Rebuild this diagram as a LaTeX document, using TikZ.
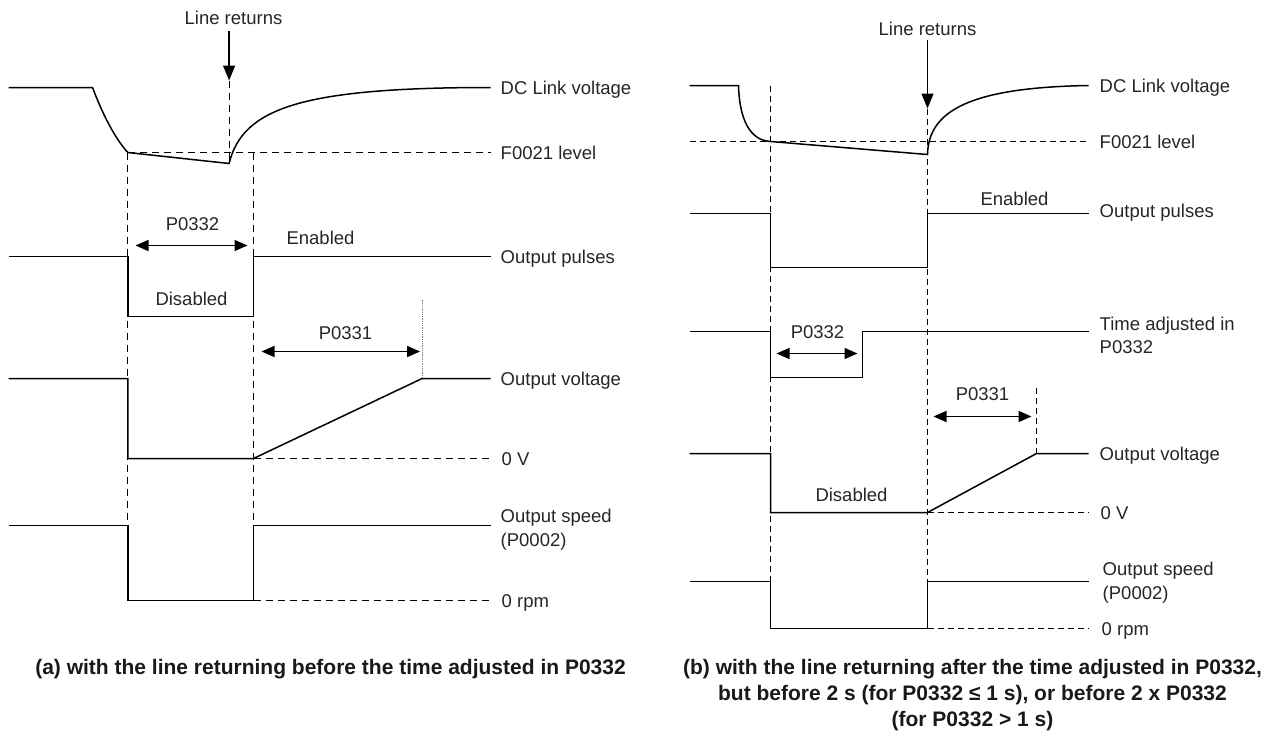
\documentclass[tikz,border=0pt]{standalone}
\usepackage{fontspec}
\setmainfont{Liberation Sans}
\usetikzlibrary{arrows.meta}
\begin{document}
\begin{tikzpicture}[x=1pt,y=-1pt,
  wave/.style={line width=1.5pt, line join=miter},
  guideA/.style={line width=1.2pt, dash pattern=on 7pt off 5pt},
  guideB/.style={line width=1.4pt, dash pattern=on 6pt off 4pt},
  dimarrow/.style={line width=1.6pt, {Triangle[length=13pt,width=11pt]}-{Triangle[length=13pt,width=11pt]}},
  downarrow/.style={line width=1.4pt, -{Triangle[length=15pt,width=12pt]}},
  lbl/.style={anchor=base west, inner sep=0pt, font=\fontsize{18.5}{22}\selectfont, text=black!85},
  clbl/.style={anchor=base, inner sep=0pt, font=\fontsize{18.5}{22}\selectfont, text=black!85},
  captext/.style={anchor=base, inner sep=0pt, font=\fontsize{21}{25}\selectfont\bfseries, text=black!90}]
\useasboundingbox (0,0) rectangle (1271,731);
\begin{scope}[shift={(0.5,0.5)}]
% ================= (a) =================
\node[clbl] (aLR) at (233,23.5) {Line returns};
\coordinate (aLRs) at (228.6,30);
\coordinate (aLRt) at (228.6,80);
\draw[downarrow] (aLRs) -- (aLRt);
\draw[guideA] (aLRt) -- (228.6,163);

\draw[wave] (8,87) -- (92,87) .. controls (100,108) and (112,135) .. (127.3,152)
  -- (228.6,163) .. controls (242,108) and (300,87) .. (490,87);
\draw[guideA] (127.3,152) -- (490,152);
\draw[guideA] (127.3,152) -- (127.3,525);
\draw[guideA] (253,152) -- (253,525);

\draw[wave] (8,256) -- (127.3,256) -- (127.3,316) -- (253,316) -- (253,256) -- (490,256);
\coordinate (aP2l) at (135,245);
\coordinate (aP2r) at (247,245);
\draw[dimarrow] (aP2l) -- (aP2r);
\node[clbl] (aP2) at (192,229.5) {P0332};
\node[clbl] (aEn) at (320,243.5) {Enabled};
\node[clbl] (aDis) at (191,304.5) {Disabled};

\draw[gray, line width=0.8pt, densely dotted] (421.6,299) -- (421.6,378);
\coordinate (aP1l) at (261,351);
\coordinate (aP1r) at (419.6,351);
\draw[dimarrow] (aP1l) -- (aP1r);
\node[clbl] (aP1) at (345,338.5) {P0331};

\draw[wave] (8,378) -- (127.3,378) -- (127.3,458) -- (253,458) -- (421.6,378) -- (490,378);
\draw[guideA] (253,458) -- (490,458);

\draw[wave] (8,525) -- (127.3,525) -- (127.3,600) -- (253,600) -- (253,525) -- (490,525);
\draw[guideA] (253,600) -- (490,600);

\node[lbl] (aL1) at (500,93.5) {DC Link voltage};
\node[lbl] (aL2) at (500,158.5) {F0021 level};
\node[lbl] (aL3) at (500,262.5) {Output pulses};
\node[lbl] (aL4) at (500,384.5) {Output voltage};
\node[lbl] (aL5) at (501,464.5) {0 V};
\node[lbl] (aL6) at (500,521.5) {Output speed};
\node[lbl] (aL7) at (500,545.5) {(P0002)};
\node[lbl] (aL8) at (501,606.5) {0 rpm};

\node[captext] (capA) at (330,674) {(a) with the line returning before the time adjusted in P0332};

% ================= (b) =================
\node[clbl] (bLR) at (927,34.5) {Line returns};
\coordinate (bLRs) at (927,39);
\coordinate (bLRt) at (927,108);
\draw[downarrow] (bLRs) -- (bLRt);
\draw[guideB] (bLRt) -- (927,581);

\draw[wave] (689,85) -- (738,85) .. controls (739,120) and (750,140) .. (770,141)
  -- (927,154) .. controls (928,110) and (970,87) .. (1088,85);
\draw[guideB] (689,141) -- (1088,141);
\draw[guideB] (770,85) -- (770,581);

\draw[wave] (689,213) -- (770,213) -- (770,267) -- (927,267) -- (927,213) -- (1088,213);
\node[clbl] (bEn) at (1014,204.5) {Enabled};

\draw[wave] (689,331) -- (770,331) -- (770,377) -- (862,377) -- (862,331) -- (1088,331);
\coordinate (bP2l) at (776,353);
\coordinate (bP2r) at (857,353);
\draw[dimarrow] (bP2l) -- (bP2r);
\node[clbl] (bP2) at (817,337.5) {P0332};

\coordinate (bP1l) at (933,416);
\coordinate (bP1r) at (1031,416);
\draw[dimarrow] (bP1l) -- (bP1r);
\node[clbl] (bP1) at (982,399.5) {P0331};
\draw[guideB] (1036,387) -- (1036,453);

\draw[wave] (689,453) -- (770,453) -- (770,512) -- (927,512) -- (1036,453) -- (1088,453);
\draw[guideB] (927,512) -- (1088,512);
\node[clbl] (bDis) at (851,500.5) {Disabled};

\draw[wave] (689,581) -- (770,581) -- (770,628) -- (927,628) -- (927,581) -- (1088,581);
\draw[guideB] (927,628) -- (1088,628);

\node[lbl] (bL1) at (1099,91.5) {DC Link voltage};
\node[lbl] (bL2) at (1099,147.5) {F0021 level};
\node[lbl] (bL3) at (1099,216.5) {Output pulses};
\node[lbl] (bL4) at (1099,329.5) {Time adjusted in};
\node[lbl] (bL5) at (1099,352.5) {P0332};
\node[lbl] (bL6) at (1099,459.5) {Output voltage};
\node[lbl] (bL7) at (1100,518.5) {0 V};
\node[lbl] (bL8) at (1102,574.5) {Output speed};
\node[lbl] (bL9) at (1102,598.5) {(P0002)};
\node[lbl] (bL10) at (1101,634.5) {0 rpm};

\node[captext] (capB1) at (972,674) {(b) with the line returning after the time adjusted in P0332,};
\node[captext] (capB2) at (972,700) {but before 2 s (for P0332 ≤ 1 s), or before 2 x P0332};
\node[captext] (capB3) at (972,726) {(for P0332 > 1 s)};
\end{scope}
\end{tikzpicture}
\end{document}
